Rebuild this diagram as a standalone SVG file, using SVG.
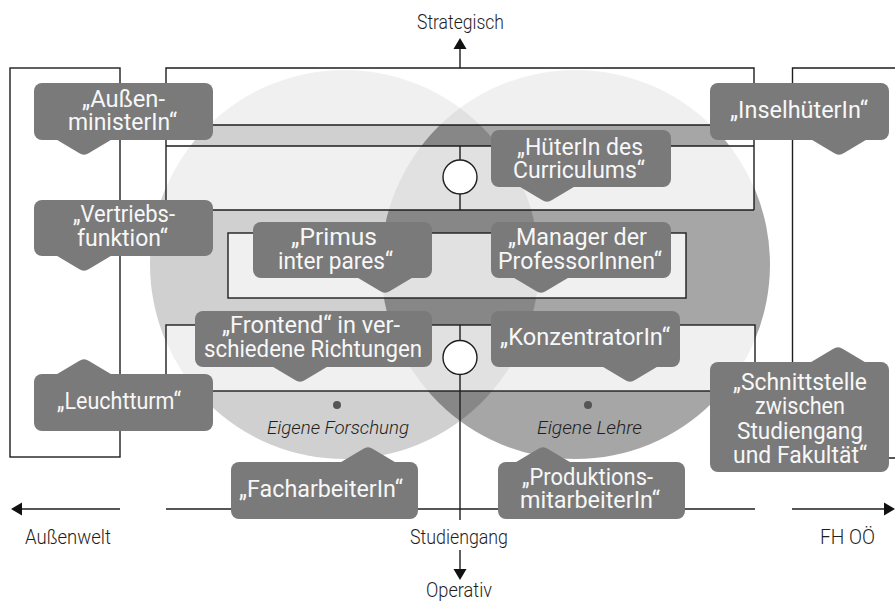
<svg xmlns="http://www.w3.org/2000/svg" width="895" height="601" viewBox="0 0 895 601">
<style>
.frame{fill:none;stroke:#1e1e1e;stroke-width:1.4}
.ax{fill:none;stroke:#1e1e1e;stroke-width:1.4}
.lbl{fill:#7a7a7a}
.lt{font-family:Roboto,"Liberation Sans",sans-serif;font-size:23px;fill:#f7f7f7;text-anchor:middle}
.at{font-family:Roboto,"Liberation Sans",sans-serif;font-size:20px;font-weight:300;fill:#1e1e1e;text-anchor:middle}
.it{font-family:Roboto,"Liberation Sans",sans-serif;font-size:18px;font-style:italic;font-weight:300;fill:#1e1e1e;text-anchor:middle}
.knot{fill:#fff;stroke:#1e1e1e;stroke-width:1.4}
</style>
<defs>
<path id="ptr" d="M-28.5,-1 L-5,13 Q0,16.5 5,13 L28.5,-1 Z"/>
<marker id="arr" markerWidth="12" markerHeight="14" refX="0" refY="7" orient="auto" markerUnits="userSpaceOnUse" viewBox="0 0 12 14"><path d="M0,0.5 L11,7 L0,13.5 Z" fill="#111"/></marker>
<clipPath id="inbox">
<rect x="166" y="68" width="588" height="57"/>
<rect x="166" y="146" width="588" height="64"/>
<rect x="228" y="233" width="458" height="65"/>
<rect x="166" y="325" width="589" height="66"/>
</clipPath>
</defs>
<rect width="895" height="601" fill="#fff"/>
<g id="circles">
<circle cx="344.5" cy="264.5" r="194.5" fill="#000" fill-opacity="0.185"/>
<circle cx="575.5" cy="264.5" r="194.5" fill="#000" fill-opacity="0.35"/>
<g clip-path="url(#inbox)">
<rect width="895" height="601" fill="#fff"/>
<circle cx="344.5" cy="264.5" r="194.5" fill="#000" fill-opacity="0.06"/>
<circle cx="575.5" cy="264.5" r="194.5" fill="#000" fill-opacity="0.06"/>
</g>
<circle cx="337" cy="405" r="4" fill="#555"/>
<circle cx="588" cy="405" r="4" fill="#555"/>
<text class="it" x="338" y="434" textLength="142" lengthAdjust="spacingAndGlyphs">Eigene Forschung</text>
<text class="it" x="589.5" y="434" textLength="105" lengthAdjust="spacingAndGlyphs">Eigene Lehre</text>
</g>
<g id="connectors">
<rect class="frame" x="10" y="68" width="110" height="389"/>
<path class="frame" d="M900,68 H792.5 V458 H900"/>
<path class="frame" d="M166,68 H754 V125 H166 Z"/>
<path class="frame" d="M166,125 V210 M754,125 V210"/>
<path class="frame" d="M166,146 H754 M166,210 H754"/>
<rect class="frame" x="228" y="233" width="458" height="65"/>
<rect class="frame" x="166" y="325" width="589" height="66"/>
<path class="ax" d="M460,68 V49" marker-end="url(#arr)"/>
<path class="ax" d="M460,146 V210 M460,325 V520"/>
<path class="ax" d="M460,550 V569" marker-end="url(#arr)"/>
<path class="ax" d="M120,509 H22" marker-end="url(#arr)"/>
<path class="ax" d="M166,509 H755"/>
<path class="ax" d="M792,509 H884" marker-end="url(#arr)"/>
<circle class="knot" cx="460" cy="177" r="17"/>
<circle class="knot" cx="460" cy="357.5" r="17"/>
</g>
<g id="n-aussen"><rect class="lbl" x="34" y="83" width="179" height="57" rx="8"/><use href="#ptr" class="lbl" transform="translate(84,140)"/>
<text class="lt" x="123.5" y="106.7" textLength="83" lengthAdjust="spacingAndGlyphs">„Außen-</text>
<text class="lt" x="122.5" y="130" textLength="109" lengthAdjust="spacingAndGlyphs">ministerIn“</text></g>
<g id="n-insel"><rect class="lbl" x="710" y="83" width="179" height="57" rx="8"/><use href="#ptr" class="lbl" transform="translate(839,140)"/>
<text class="lt" x="799" y="118.3" textLength="138" lengthAdjust="spacingAndGlyphs">„InselhüterIn“</text></g>
<g id="n-hueter"><rect class="lbl" x="491" y="130" width="180" height="57" rx="8"/><use href="#ptr" class="lbl" transform="translate(547,187)"/>
<text class="lt" x="580" y="154.5" textLength="126" lengthAdjust="spacingAndGlyphs">„HüterIn des</text>
<text class="lt" x="579" y="178.3" textLength="132" lengthAdjust="spacingAndGlyphs">Curriculums“</text></g>
<g id="n-vertrieb"><rect class="lbl" x="34" y="200" width="179" height="56" rx="8"/><use href="#ptr" class="lbl" transform="translate(84,256)"/>
<text class="lt" x="124" y="221.7" textLength="102" lengthAdjust="spacingAndGlyphs">„Vertriebs-</text>
<text class="lt" x="122.5" y="246" textLength="91" lengthAdjust="spacingAndGlyphs">funktion“</text></g>
<g id="n-primus"><rect class="lbl" x="253" y="222" width="179" height="56" rx="8"/><use href="#ptr" class="lbl" transform="translate(385,278)"/>
<text class="lt" x="334" y="245" textLength="86" lengthAdjust="spacingAndGlyphs">„Primus</text>
<text class="lt" x="335.5" y="269.3" textLength="115" lengthAdjust="spacingAndGlyphs">inter pares“</text></g>
<g id="n-manager"><rect class="lbl" x="491" y="222" width="180" height="56" rx="8"/><use href="#ptr" class="lbl" transform="translate(541,278)"/>
<text class="lt" x="577.5" y="245" textLength="139" lengthAdjust="spacingAndGlyphs">„Manager der</text>
<text class="lt" x="580" y="269.3" textLength="164" lengthAdjust="spacingAndGlyphs">ProfessorInnen“</text></g>
<g id="n-frontend"><rect class="lbl" x="195" y="311" width="237" height="56" rx="8"/><use href="#ptr" class="lbl" transform="translate(300,367)"/>
<text class="lt" x="311" y="333.3" textLength="178" lengthAdjust="spacingAndGlyphs">„Frontend“ in ver-</text>
<text class="lt" x="313" y="356.7" textLength="218" lengthAdjust="spacingAndGlyphs">schiedene Richtungen</text></g>
<g id="n-konzentrator"><rect class="lbl" x="491" y="311" width="189" height="56" rx="8"/><use href="#ptr" class="lbl" transform="translate(630,367)"/>
<text class="lt" x="585" y="344.5" textLength="170" lengthAdjust="spacingAndGlyphs">„KonzentratorIn“</text></g>
<g id="n-leuchtturm"><rect class="lbl" x="34" y="374" width="179" height="57" rx="8"/><use href="#ptr" class="lbl" transform="translate(84,374) scale(1,-1)"/>
<text class="lt" x="119" y="409" textLength="124" lengthAdjust="spacingAndGlyphs">„Leuchtturm“</text></g>
<g id="n-schnittstelle"><rect class="lbl" x="710" y="362" width="179" height="110" rx="8"/><use href="#ptr" class="lbl" transform="translate(838,362) scale(1,-1)"/>
<text class="lt" x="800" y="390" textLength="134" lengthAdjust="spacingAndGlyphs">„Schnittstelle</text>
<text class="lt" x="800" y="414" textLength="90" lengthAdjust="spacingAndGlyphs">zwischen</text>
<text class="lt" x="800" y="438.7" textLength="126" lengthAdjust="spacingAndGlyphs">Studiengang</text>
<text class="lt" x="800" y="463" textLength="134" lengthAdjust="spacingAndGlyphs">und Fakultät“</text></g>
<g id="n-facharbeiter"><rect class="lbl" x="231" y="462" width="187" height="57" rx="8"/><use href="#ptr" class="lbl" transform="translate(368,462) scale(1,-1)"/>
<text class="lt" x="321" y="496.7" textLength="164" lengthAdjust="spacingAndGlyphs">„FacharbeiterIn“</text></g>
<g id="n-produktion"><rect class="lbl" x="498" y="462" width="187" height="57" rx="8"/><use href="#ptr" class="lbl" transform="translate(543,462) scale(1,-1)"/>
<text class="lt" x="587.5" y="485" textLength="131" lengthAdjust="spacingAndGlyphs">„Produktions-</text>
<text class="lt" x="590" y="508" textLength="140" lengthAdjust="spacingAndGlyphs">mitarbeiterIn“</text></g>
<g id="axis-labels">
<text class="at" x="460.5" y="29" textLength="87" lengthAdjust="spacingAndGlyphs">Strategisch</text>
<text class="at" x="68" y="544" textLength="86" lengthAdjust="spacingAndGlyphs">Außenwelt</text>
<text class="at" x="459" y="543.5" textLength="98" lengthAdjust="spacingAndGlyphs">Studiengang</text>
<text class="at" x="847.5" y="544" textLength="55" lengthAdjust="spacingAndGlyphs">FH OÖ</text>
<text class="at" x="459" y="596.5" textLength="66" lengthAdjust="spacingAndGlyphs">Operativ</text>
</g>
</svg>
